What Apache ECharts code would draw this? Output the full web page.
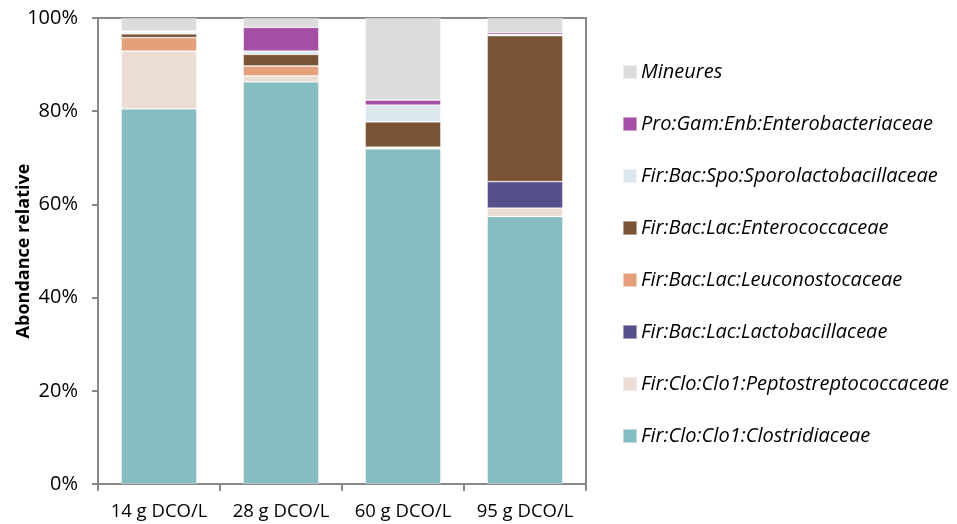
<!DOCTYPE html>
<html>
<head>
<meta charset="utf-8">
<script src="https://cdn.jsdelivr.net/npm/echarts@6/dist/echarts.min.js"></script>
<style>
  html, body { margin: 0; padding: 0; background: #fff; }
  #chart { width: 957px; height: 524px; }
</style>
</head>
<body>
<div id="chart"></div>
<script>
// categories (x axis)
const categories = ['14 g DCO/L', '28 g DCO/L', '60 g DCO/L', '95 g DCO/L'];

// series, stacked from bottom to top (values in %)
const clostridiaceae = [80.5, 86.3, 71.9, 57.4];
const peptostreptococcaceae = [12.4, 1.3, 0.4, 1.8];
const lactobacillaceae = [0, 0, 0, 5.7];
const leuconostocaceae = [2.9, 2.1, 0, 0];
const enterococcaceae = [0.8, 2.5, 5.4, 31.3];
const sporolactobacillaceae = [0.4, 0.7, 3.6, 0.3];
const enterobacteriaceae = [0.2, 5.1, 1.1, 0.4];
const mineures = [2.8, 2.0, 17.6, 3.1];

const yTicks = [0, 20, 40, 60, 80, 100];

const seriesDefs = [
  { name: 'Fir:Clo:Clo1:Clostridiaceae', data: clostridiaceae, color: '#86BDC1' },
  { name: 'Fir:Clo:Clo1:Peptostreptococcaceae', data: peptostreptococcaceae, color: '#EBDDD4' },
  { name: 'Fir:Bac:Lac:Lactobacillaceae', data: lactobacillaceae, color: '#545089' },
  { name: 'Fir:Bac:Lac:Leuconostocaceae', data: leuconostocaceae, color: '#E3A07A' },
  { name: 'Fir:Bac:Lac:Enterococcaceae', data: enterococcaceae, color: '#7A5234' },
  { name: 'Fir:Bac:Spo:Sporolactobacillaceae', data: sporolactobacillaceae, color: '#DDE8EE' },
  { name: 'Pro:Gam:Enb:Enterobacteriaceae', data: enterobacteriaceae, color: '#A44FA3' },
  { name: 'Mineures', data: mineures, color: '#DCDCDC' }
];

const font = '"Open Sans", "Liberation Sans", sans-serif';
const chart = echarts.init(document.getElementById('chart'));

chart.setOption({
  animation: false,
  grid: {
    left: 98, right: 371, top: 18, bottom: 40,
    outerBoundsMode: 'none',
    containLabel: false,
    show: true, borderColor: '#888', borderWidth: 2
  },
  legend: {
    orient: 'vertical',
    left: 617,
    top: 57,
    itemWidth: 14,
    itemHeight: 14,
    itemGap: 32,
    icon: 'rect',
    data: seriesDefs.map(s => s.name).reverse(),
    textStyle: { fontFamily: font, fontSize: 20, fontStyle: 'italic', color: '#000', padding: [0, 0, 0, -1] }
  },
  xAxis: {
    type: 'category',
    data: categories,
    axisLine: { lineStyle: { color: '#888', width: 2 } },
    axisTick: { show: true, length: 7, lineStyle: { color: '#888', width: 2 } },
    axisLabel: { interval: 0, fontFamily: font, fontSize: 18.5, color: '#000', margin: 18 }
  },
  yAxis: {
    type: 'value',
    min: yTicks[0],
    max: yTicks[yTicks.length - 1],
    interval: 20,
    name: 'Abondance relative',
    nameLocation: 'middle',
    nameGap: 65,
    nameMoveOverlap: false,
    nameTextStyle: { fontFamily: font, fontSize: 18, fontWeight: 'bold', color: '#000' },
    axisLine: { show: true, lineStyle: { color: '#888', width: 2 } },
    axisTick: { show: true, length: 6, lineStyle: { color: '#888', width: 2 } },
    splitLine: { show: false },
    axisLabel: { fontFamily: font, fontSize: 20, color: '#000', margin: 20, formatter: '{value}%' }
  },
  series: seriesDefs.map(s => ({
    name: s.name,
    type: 'bar',
    stack: 'total',
    barWidth: '62%',
    data: s.data,
    itemStyle: { color: s.color, borderColor: 'rgba(255,255,255,0.45)', borderWidth: 0.8 }
  }))
});
</script>
</body>
</html>
